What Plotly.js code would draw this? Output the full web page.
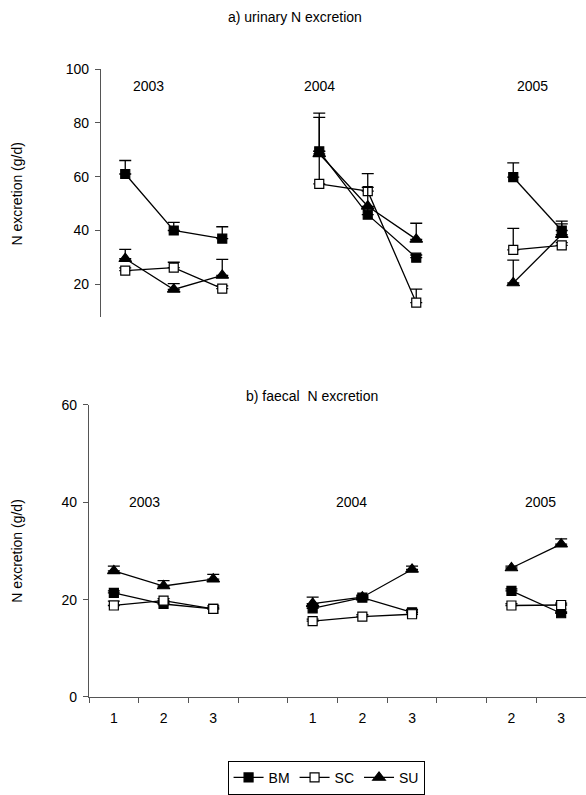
<!DOCTYPE html>
<html>
<head>
<meta charset="utf-8">
<script src="https://cdn.plot.ly/plotly-3.0.1.min.js"></script>
<style>html,body{margin:0;padding:0;background:#fff;}#chart{width:586px;height:795px;}</style>
</head>
<body>
<div id="chart"></div>
<script>
// slots: 2003 (1,2,3), gap, 2004 (1,2,3), gap (2005 period 1 absent), 2005 (2,3)
const slots = [0, 1, 2, 3, 4, 5, 6, 7, 8, 9];
const periodLabels = ['1', '2', '3', '', '1', '2', '3', '', '2', '3'];
const years = ['2003', '2004', '2005'];
const seriesNames = ['BM', 'SC', 'SU'];

// a) urinary N excretion (g/d)
const urinBM    = [61.0, 40.0, 37.0, null, 69.4, 45.9, 29.9, null, 59.8, 40.0];
const urinBMerr = [5.0, 3.0, 4.4, null, 12.6, 3.0, 1.0, null, 5.3, 3.5];
const urinSC    = [25.1, 26.2, 18.4, null, 57.3, 54.6, 13.2, null, 32.8, 34.5];
const urinSCerr = [1.0, 2.0, 1.0, null, 26.3, 6.5, 5.0, null, 8.0, 1.0];
const urinSU    = [29.5, 18.1, 23.3, null, 68.5, 49.0, 36.7, null, 20.5, 38.5];
const urinSUerr = [3.5, 2.2, 6.0, null, 1.0, 7.0, 6.0, null, 8.5, 4.0];

// b) faecal N excretion (g/d)
const faecBM    = [21.4, 19.1, 18.1, null, 18.2, 20.4, 17.4, null, 21.8, 17.2];
const faecBMerr = [0.4, 0.3, 0.3, null, 0.3, 0.3, 0.3, null, 0.4, 0.3];
const faecSC    = [18.8, 19.8, 18.1, null, 15.6, 16.5, 17.0, null, 18.8, 18.9];
const faecSCerr = [0.9, 0.4, 0.6, null, 0.4, 0.4, 1.0, null, 0.4, 0.4];
const faecSU    = [25.9, 22.8, 24.2, null, 19.2, 20.5, 26.2, null, 26.5, 31.4];
const faecSUerr = [1.0, 1.1, 1.0, null, 1.3, 0.4, 0.7, null, 0.4, 1.1];

const FONT = 'Liberation Sans, Arial, sans-serif';
const FS = 14;
const styles = {
  BM: {symbol: 'square', color: '#000000', lineColor: '#000000', size: 9},
  SC: {symbol: 'square', color: '#ffffff', lineColor: '#000000', size: 9},
  SU: {symbol: 'triangle-up', color: '#000000', lineColor: '#000000', size: 11}
};

function mk(name, y, err, xa, ya, showlegend) {
  const s = styles[name];
  return {
    type: 'scatter', mode: 'lines+markers', name: name,
    x: slots, y: y, xaxis: xa, yaxis: ya,
    connectgaps: false, showlegend: showlegend,
    line: {color: '#000000', width: 1.3},
    marker: {symbol: s.symbol, size: s.size, color: s.color, line: {color: s.lineColor, width: 1.2}},
    error_y: {type: 'data', symmetric: false, array: err, arrayminus: err.map(v => 0),
              color: '#000000', thickness: 1.3, width: 6},
    cliponaxis: false
  };
}

const data = [
  mk('BM', urinBM, urinBMerr, 'x2', 'y2', true),
  mk('SC', urinSC, urinSCerr, 'x2', 'y2', true),
  mk('SU', urinSU, urinSUerr, 'x2', 'y2', true),
  mk('BM', faecBM, faecBMerr, 'x', 'y', false),
  mk('SC', faecSC, faecSCerr, 'x', 'y', false),
  mk('SU', faecSU, faecSUerr, 'x', 'y', false)
];

const labelVals = slots.filter((s, i) => periodLabels[i] !== '');
const labelText = periodLabels.filter(t => t !== '');
const boundaries = slots.concat([slots.length]).map(v => v - 0.5);

const axisColor = '#555555';
const layout = {
  width: 586, height: 795,
  margin: {l: 89, r: 0, t: 69, b: 96},
  paper_bgcolor: '#ffffff', plot_bgcolor: 'rgba(0,0,0,0)',
  font: {family: FONT, size: FS, color: '#000000'},
  showlegend: true,
  legend: {orientation: 'h', x: 0.477, xanchor: 'center', y: -0.1016, yanchor: 'top',
           bordercolor: '#000000', borderwidth: 1, font: {family: FONT, size: FS},
           itemwidth: 30, tracegroupgap: 0, traceorder: 'normal'},
  // bottom panel
  xaxis: {domain: [0, 1], range: [-0.5, 9.5], showgrid: false, zeroline: false,
          showline: true, linecolor: axisColor, linewidth: 1.2,
          tickmode: 'array', tickvals: labelVals, ticktext: labelText, ticks: '',
          ticklabelstandoff: 8,
          minor: {tickmode: 'array', tickvals: boundaries, ticks: 'outside', ticklen: 5, tickcolor: axisColor, tickwidth: 1},
          tickfont: {family: FONT, size: FS}, fixedrange: true},
  yaxis: {domain: [0, 0.4651], range: [0, 60], tickvals: [0, 20, 40, 60],
          showgrid: false, zeroline: false, showline: true, linecolor: axisColor, linewidth: 1.2,
          ticks: 'outside', ticklen: 5, tickcolor: axisColor, ticklabelstandoff: 3,
          tickfont: {family: FONT, size: FS}},
  // top panel
  xaxis2: {domain: [0.02414, 1], range: [-0.5, 9.5], anchor: 'y2', showgrid: false, zeroline: false,
           showline: false, showticklabels: false, ticks: ''},
  yaxis2: {domain: [0.6048, 1], range: [7.8, 100], anchor: 'x2', tickvals: [20, 40, 60, 80, 100],
           showgrid: false, zeroline: false, showline: true, linecolor: axisColor, linewidth: 1.2,
           ticks: 'outside', ticklen: 5, tickcolor: axisColor, ticklabelstandoff: 3,
           tickfont: {family: FONT, size: FS}},
  annotations: [
    {text: 'a) urinary N excretion', xref: 'paper', yref: 'paper', x: 0.4145, y: 1.0825,
     xanchor: 'center', yanchor: 'middle', showarrow: false, font: {family: FONT, size: FS}},
    {text: 'b) faecal  N excretion', xref: 'paper', yref: 'paper', x: 0.4487, y: 0.479,
     xanchor: 'center', yanchor: 'middle', showarrow: false, font: {family: FONT, size: FS}},
    {text: 'N excretion (g/d)', xref: 'paper', yref: 'paper', x: -0.1449, y: 0.8016, textangle: -90,
     xanchor: 'center', yanchor: 'middle', showarrow: false, font: {family: FONT, size: FS}},
    {text: 'N excretion (g/d)', xref: 'paper', yref: 'paper', x: -0.1449, y: 0.2330, textangle: -90,
     xanchor: 'center', yanchor: 'middle', showarrow: false, font: {family: FONT, size: FS}},
    {text: years[0], xref: 'x2', yref: 'y2', x: 0.48, y: 93.8, showarrow: false, font: {family: FONT, size: FS}},
    {text: years[1], xref: 'x2', yref: 'y2', x: 4.0, y: 93.8, showarrow: false, font: {family: FONT, size: FS}},
    {text: years[2], xref: 'x2', yref: 'y2', x: 8.39, y: 93.8, showarrow: false, font: {family: FONT, size: FS}},
    {text: years[0], xref: 'x', yref: 'y', x: 0.61, y: 40.1, showarrow: false, font: {family: FONT, size: FS}},
    {text: years[1], xref: 'x', yref: 'y', x: 4.79, y: 40.1, showarrow: false, font: {family: FONT, size: FS}},
    {text: years[2], xref: 'x', yref: 'y', x: 8.59, y: 40.1, showarrow: false, font: {family: FONT, size: FS}}
  ]
};

Plotly.newPlot('chart', data, layout, {displayModeBar: false, staticPlot: true});
</script>
</body>
</html>
